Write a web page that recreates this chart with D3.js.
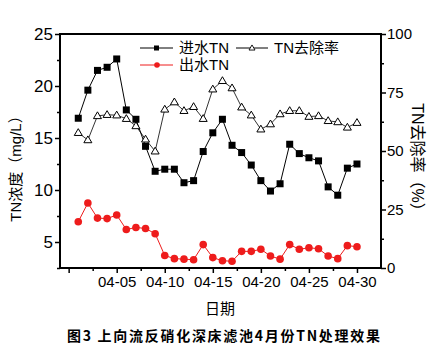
<!DOCTYPE html>
<html><head><meta charset="utf-8">
<script src="https://cdn.jsdelivr.net/npm/d3@7"></script>
<style>
html,body{margin:0;padding:0;background:#fff;}
svg{display:block;}
text{font-family:"Liberation Sans",Arial,"Noto Sans CJK SC",sans-serif;}
</style></head>
<body>
<svg id="c" width="444" height="364"></svg>
<script>
const dates = ["04-01","04-02","04-03","04-04","04-05","04-06","04-07","04-08","04-09","04-10",
  "04-11","04-12","04-13","04-14","04-15","04-16","04-17","04-18","04-19","04-20",
  "04-21","04-22","04-23","04-24","04-25","04-26","04-27","04-28","04-29","04-30"];
const inflowTN = [16.9,19.6,21.5,21.8,22.6,17.7,16.8,14.2,11.8,12.0,
  12.0,10.7,10.9,13.7,15.5,16.8,14.3,13.6,12.4,10.9,
  9.9,10.6,14.4,13.5,13.1,12.8,10.3,9.5,12.1,12.5];
const outflowTN = [6.95,8.75,7.3,7.25,7.6,6.2,6.4,6.3,5.8,3.7,
  3.4,3.35,3.3,4.75,3.5,3.2,3.15,4.1,4.1,4.3,
  3.65,3.35,4.75,4.3,4.45,4.35,3.65,3.4,4.65,4.55];
const removalRate = [57.8,54.7,65.0,65.5,65.3,63.8,60.7,55.0,49.9,67.8,
  70.9,67.2,68.9,63.8,76.4,80.0,76.9,68.7,65.3,59.3,
  61.5,65.8,67.2,67.2,64.7,65.0,62.9,62.4,60.1,62.1];
const xTickLabels = ["04-05","04-10","04-15","04-20","04-25","04-30"];
const leftTicks = [5,10,15,20,25];
const rightTicks = [0,25,50,75,100];
const seriesNames = ["进水TN","出水TN","TN去除率"];

const svg = d3.select("#c");
const L=60, R=381, T=34, B=268;
const day = s => +s.slice(3);
const x = d3.scaleLinear().domain([-0.9,32.5]).range([L,R]);
const yL = d3.scaleLinear().domain([2.5,25]).range([B,T]);
const yR = d3.scaleLinear().domain([0,100]).range([B,T]);
const red = "#ee1c1c";

// axes
const xMajor = [0].concat(xTickLabels.map(day));
const xAxis = d3.axisBottom(x).tickValues(xMajor).tickSize(5).tickPadding(3)
  .tickFormat(d => { const l = xTickLabels.find(t=>day(t)===d); return l||""; });
const gx = svg.append("g").attr("transform",`translate(0,${B})`).call(xAxis);
gx.selectAll("text").attr("font-size",15).attr("dy","0.75em");
const xMinor = d3.axisBottom(x).tickValues(xMajor.map(d=>d+2.5).filter(d=>d<32)).tickSize(3).tickFormat("");
svg.append("g").attr("transform",`translate(0,${B})`).call(xMinor);

const gl = svg.append("g").attr("transform",`translate(${L},0)`)
  .call(d3.axisLeft(yL).tickValues(leftTicks).tickSize(5).tickPadding(2));
gl.selectAll("text").attr("font-size",17);
svg.append("g").attr("transform",`translate(${L},0)`)
  .call(d3.axisLeft(yL).tickValues(leftTicks.map(d=>d-2.5)).tickSize(3).tickFormat(""));

const gr = svg.append("g").attr("transform",`translate(${R},0)`)
  .call(d3.axisRight(yR).tickValues(rightTicks).tickSize(5).tickPadding(1));
gr.selectAll("text").attr("font-size",15);
svg.append("g").attr("transform",`translate(${R},0)`)
  .call(d3.axisRight(yR).tickValues(rightTicks.slice(0,4).map(d=>d+12.5)).tickSize(3).tickFormat(""));

svg.selectAll(".domain").remove();
svg.selectAll(".tick line").attr("stroke","#000").attr("stroke-width",1.5);
svg.append("rect").attr("x",L).attr("y",T).attr("width",R-L).attr("height",B-T)
  .attr("fill","none").attr("stroke","#000").attr("stroke-width",2);

// lines
const lineL = vals => d3.line().x((d,i)=>x(day(dates[i]))).y(d=>yL(d))(vals);
const lineR = d3.line().x((d,i)=>x(day(dates[i]))).y(d=>yR(d));

svg.append("path").attr("d",lineR(removalRate)).attr("fill","none").attr("stroke","#000").attr("stroke-width",0.8);
svg.append("path").attr("d",lineL(inflowTN)).attr("fill","none").attr("stroke","#000").attr("stroke-width",1);
svg.append("path").attr("d",lineL(outflowTN)).attr("fill","none").attr("stroke",red).attr("stroke-width",1);

const tri = (cx,cy,w) => { const h=w*0.85; return `M${cx},${cy-h*0.6}L${cx+w/2},${cy+h*0.4}L${cx-w/2},${cy+h*0.4}Z`; };
svg.append("g").selectAll("path").data(removalRate).join("path")
  .attr("d",(d,i)=>tri(x(day(dates[i])),yR(d),8)).attr("fill","#fff").attr("stroke","#000").attr("stroke-width",1);
svg.append("g").selectAll("rect").data(inflowTN).join("rect")
  .attr("x",(d,i)=>x(day(dates[i]))-3.5).attr("y",d=>yL(d)-3.5).attr("width",7).attr("height",7).attr("fill","#000");
svg.append("g").selectAll("circle").data(outflowTN).join("circle")
  .attr("cx",(d,i)=>x(day(dates[i]))).attr("cy",d=>yL(d)).attr("r",3.8).attr("fill",red);

// legend
const lg = svg.append("g");
lg.append("line").attr("x1",140).attr("x2",173).attr("y1",48).attr("y2",48).attr("stroke","#000");
lg.append("rect").attr("x",154).attr("y",45.5).attr("width",5).attr("height",5).attr("fill","#000");
lg.append("text").attr("x",179).attr("y",48).attr("dy","0.35em").attr("font-size",15).text(seriesNames[0]);
lg.append("line").attr("x1",140).attr("x2",173).attr("y1",65).attr("y2",65).attr("stroke",red);
lg.append("circle").attr("cx",157).attr("cy",65).attr("r",2.8).attr("fill",red);
lg.append("text").attr("x",179).attr("y",65).attr("dy","0.35em").attr("font-size",15).text(seriesNames[1]);
lg.append("line").attr("x1",236).attr("x2",268).attr("y1",48).attr("y2",48).attr("stroke","#000");
lg.append("path").attr("d",tri(252,48,6)).attr("fill","#fff").attr("stroke","#000").attr("stroke-width",0.9);
lg.append("text").attr("x",274).attr("y",48).attr("dy","0.35em").attr("font-size",15).text(seriesNames[2]);

// titles
svg.append("text").attr("transform","translate(16,165) rotate(-90)").attr("text-anchor","middle")
  .attr("dy","0.35em").attr("font-size",15).text("TN浓度（mg/L）");
svg.append("text").attr("transform","translate(418,161) rotate(90)").attr("text-anchor","middle")
  .attr("dy","0.35em").attr("font-size",16).text("TN去除率（%）");
svg.append("text").attr("x",220).attr("y",309).attr("text-anchor","middle").attr("dy","0.35em")
  .attr("font-size",15).text("日期");
svg.append("text").attr("x",67).attr("y",336).attr("dy","0.35em").attr("font-size",14)
  .attr("font-weight","bold").attr("textLength",313).attr("lengthAdjust","spacing")
  .style("font-family","'Noto Sans CJK SC',serif").text("图3 上向流反硝化深床滤池4月份TN处理效果");
</script>
</body></html>
